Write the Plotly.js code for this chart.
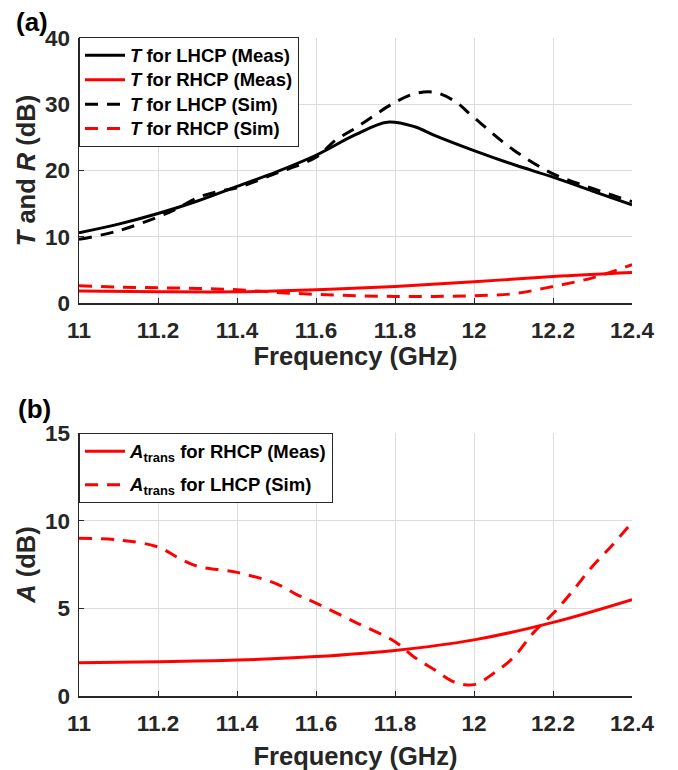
<!DOCTYPE html>
<html>
<head>
<meta charset="utf-8">
<script src="https://cdn.plot.ly/plotly-3.0.1.min.js"></script>
<style>html,body{margin:0;padding:0;background:#fff;}#chart{width:678px;height:770px;}</style>
</head>
<body>
<div id="chart"></div>
<script>
// ---------- Panel (a): T and R ----------
const fLhcpMeas = [11.0, 11.1, 11.2, 11.3, 11.4, 11.5, 11.6, 11.7, 11.78, 11.85, 11.9, 12.0, 12.1, 12.2, 12.3, 12.4];
const tLhcpMeas = [10.6, 11.9, 13.5, 15.4, 17.6, 19.8, 22.3, 25.4, 27.3, 26.6, 25.3, 23.0, 20.9, 19.0, 16.9, 14.8];

const fRhcpMeas = [11.0, 11.2, 11.4, 11.6, 11.8, 12.0, 12.2, 12.4];
const tRhcpMeas = [1.8, 1.7, 1.7, 2.0, 2.5, 3.2, 4.0, 4.6];

const fLhcpSim = [11.0, 11.1, 11.2, 11.25, 11.3, 11.35, 11.4, 11.5, 11.6, 11.65, 11.7, 11.75, 11.8, 11.85, 11.9, 11.95, 12.0, 12.1, 12.2, 12.3, 12.4];
const tLhcpSim = [9.6, 10.9, 13.0, 14.3, 15.9, 16.8, 17.4, 19.6, 22.0, 24.6, 26.4, 28.4, 30.3, 31.6, 31.8, 30.5, 28.0, 23.1, 19.5, 17.3, 15.3];

const fRhcpSim = [11.0, 11.1, 11.2, 11.3, 11.4, 11.5, 11.6, 11.7, 11.8, 11.9, 12.0, 12.1, 12.2, 12.3, 12.4];
const tRhcpSim = [2.6, 2.4, 2.3, 2.2, 2.0, 1.6, 1.3, 1.1, 1.0, 1.0, 1.1, 1.4, 2.5, 3.8, 5.8];

// ---------- Panel (b): A_trans ----------
const fAMeas = [11.0, 11.2, 11.4, 11.6, 11.8, 12.0, 12.2, 12.4];
const aRhcpMeas = [1.9, 1.95, 2.05, 2.25, 2.6, 3.2, 4.2, 5.5];

const fASim = [11.0, 11.1, 11.2, 11.25, 11.3, 11.4, 11.5, 11.55, 11.6, 11.7, 11.8, 11.85, 11.9, 11.95, 12.0, 12.05, 12.1, 12.15, 12.2, 12.25, 12.3, 12.35, 12.4];
const aLhcpSim = [9.0, 8.9, 8.5, 7.9, 7.4, 7.05, 6.4, 5.8, 5.3, 4.2, 3.1, 2.2, 1.5, 0.8, 0.65, 1.3, 2.2, 3.6, 4.7, 6.0, 7.4, 8.6, 9.9];

// ---------- Tick labels ----------
const xTickVals = [11, 11.2, 11.4, 11.6, 11.8, 12, 12.2, 12.4];
const xTickText = ['11', '11.2', '11.4', '11.6', '11.8', '12', '12.2', '12.4'];
const yTopTickVals = [0, 10, 20, 30, 40];
const yTopTickText = ['0', '10', '20', '30', '40'];
const yBotTickVals = [0, 5, 10, 15];
const yBotTickText = ['0', '5', '10', '15'];

const FONT = 'Liberation Sans, Arial, Helvetica, sans-serif';
const TXT = '#262626';
const DASH = '13px,9px';
const big = s => '<span style="font-size:18.5px">' + s + '</span>';

const traces = [
  {x: fLhcpMeas, y: tLhcpMeas, name: big('<i>T</i> for LHCP (Meas)'), mode: 'lines',
   line: {color: '#000000', width: 3, shape: 'spline'}, xaxis: 'x', yaxis: 'y', legend: 'legend'},
  {x: fRhcpMeas, y: tRhcpMeas, name: big('<i>T</i> for RHCP (Meas)'), mode: 'lines',
   line: {color: '#ff0000', width: 3, shape: 'spline'}, xaxis: 'x', yaxis: 'y', legend: 'legend'},
  {x: fLhcpSim, y: tLhcpSim, name: big('<i>T</i> for LHCP (Sim)'), mode: 'lines',
   line: {color: '#000000', width: 3, dash: DASH, shape: 'spline'}, xaxis: 'x', yaxis: 'y', legend: 'legend'},
  {x: fRhcpSim, y: tRhcpSim, name: big('<i>T</i> for RHCP (Sim)'), mode: 'lines',
   line: {color: '#ff0000', width: 3, dash: DASH, shape: 'spline'}, xaxis: 'x', yaxis: 'y', legend: 'legend'},
  {x: fAMeas, y: aRhcpMeas, name: big('<i>A</i><sub>trans</sub> for RHCP (Meas)'), mode: 'lines',
   line: {color: '#ff0000', width: 3, shape: 'spline'}, xaxis: 'x2', yaxis: 'y2', legend: 'legend2', legendgroup: 'g1'},
  {x: fASim, y: aLhcpSim, name: big('<i>A</i><sub>trans</sub> for LHCP (Sim)'), mode: 'lines',
   line: {color: '#ff0000', width: 3, dash: DASH, shape: 'spline'}, xaxis: 'x2', yaxis: 'y2', legend: 'legend2', legendgroup: 'g2'}
];

const xDom = [79 / 678, 632 / 678];
function xAxis(anchor, standoff) {
  return {
    domain: xDom, anchor: anchor, range: [11, 12.4],
    tickvals: xTickVals, ticktext: xTickText,
    showgrid: true, gridcolor: '#dcdcdc', gridwidth: 1,
    showline: true, linecolor: TXT, linewidth: 1.5, mirror: false,
    ticks: 'inside', ticklen: 5, tickcolor: TXT, tickwidth: 1,
    zeroline: false, ticklabelstandoff: 6,
    tickfont: {family: FONT, size: 22.5, color: TXT, weight: 'bold'},
    title: {text: 'Frequency (GHz)', font: {family: FONT, size: 25.5, color: TXT, weight: 'bold'}, standoff: standoff}
  };
}
function yAxis(anchor, dom, range, tv, tt, title) {
  return {
    domain: dom, anchor: anchor, range: range,
    tickvals: tv, ticktext: tt,
    showgrid: true, gridcolor: '#dcdcdc', gridwidth: 1,
    showline: true, linecolor: TXT, linewidth: 1.5, mirror: false,
    ticks: 'inside', ticklen: 5, tickcolor: TXT, tickwidth: 1,
    zeroline: false, ticklabelstandoff: 3,
    tickfont: {family: FONT, size: 22.5, color: TXT, weight: 'bold'},
    title: {text: title, font: {family: FONT, size: 25.5, color: TXT, weight: 'bold'}, standoff: 2}
  };
}

const layout = {
  width: 678, height: 770,
  margin: {l: 0, r: 0, t: 0, b: 0},
  paper_bgcolor: '#ffffff', plot_bgcolor: '#ffffff',
  font: {family: FONT, color: TXT},
  showlegend: true,
  xaxis: xAxis('y', 1),
  yaxis: yAxis('x', [1 - 303 / 770, 1 - 38 / 770], [0, 40], yTopTickVals, yTopTickText, '<i>T</i> and <i>R</i> (dB)'),
  xaxis2: xAxis('y2', 12),
  yaxis2: yAxis('x2', [1 - 696 / 770, 1 - 433 / 770], [0, 15], yBotTickVals, yBotTickText, '<i>A</i> (dB)'),
  legend: {
    x: 79 / 678, xanchor: 'left', y: 1 - 37 / 770, yanchor: 'top',
    bgcolor: '#ffffff', bordercolor: TXT, borderwidth: 1, itemwidth: 40,
    font: {family: FONT, size: 16.5, color: '#000', weight: 'bold'}
  },
  legend2: {
    x: 79 / 678, xanchor: 'left', y: 1 - 433 / 770, yanchor: 'top',
    bgcolor: '#ffffff', bordercolor: TXT, borderwidth: 1, tracegroupgap: 9, itemwidth: 40,
    font: {family: FONT, size: 16.5, color: '#000', weight: 'bold'}
  },
  annotations: [
    {text: '(a)', xref: 'paper', yref: 'paper', x: 14 / 678, y: 1 - 22 / 770, xanchor: 'left', yanchor: 'middle',
     showarrow: false, font: {family: FONT, size: 26, color: '#000', weight: 'bold'}},
    {text: '(b)', xref: 'paper', yref: 'paper', x: 16 / 678, y: 1 - 409 / 770, xanchor: 'left', yanchor: 'middle',
     showarrow: false, font: {family: FONT, size: 26, color: '#000', weight: 'bold'}}
  ]
};

Plotly.newPlot('chart', traces, layout, {displayModeBar: false, staticPlot: true});
</script>
</body>
</html>
